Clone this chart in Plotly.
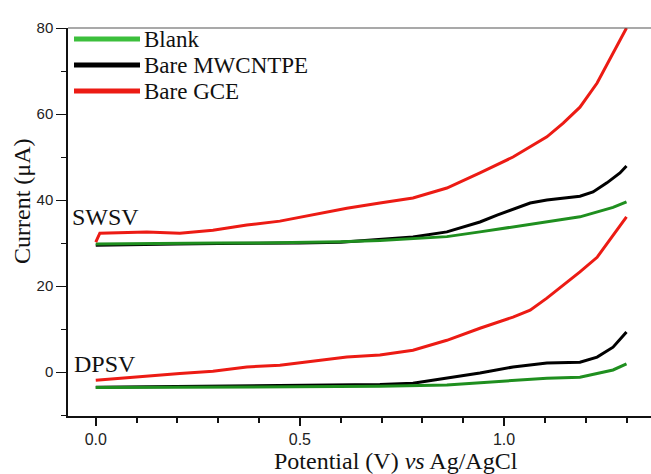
import plotly.graph_objects as go

# ---- data ----
sw_gce_v = [0.0, 0.01, 0.125, 0.206, 0.287, 0.37, 0.451, 0.532, 0.615, 0.696, 0.777, 0.86, 0.941, 1.022, 1.105, 1.145, 1.186, 1.228, 1.267, 1.30]
sw_gce_i = [30.2, 32.3, 32.6, 32.3, 33.0, 34.2, 35.1, 36.5, 38.1, 39.3, 40.5, 42.8, 46.3, 50.0, 54.7, 57.9, 61.6, 67.2, 74.2, 80.0]

sw_mw_v = [0.0, 0.1, 0.2, 0.3, 0.4, 0.5, 0.6, 0.696, 0.777, 0.86, 0.941, 0.983, 1.022, 1.064, 1.105, 1.145, 1.186, 1.218, 1.252, 1.284, 1.30]
sw_mw_i = [29.5, 29.7, 29.8, 29.9, 29.9, 30.0, 30.2, 30.8, 31.4, 32.6, 34.9, 36.5, 37.9, 39.3, 40.0, 40.5, 40.9, 41.9, 44.0, 46.3, 47.9]

sw_bl_v = [0.0, 0.1, 0.2, 0.3, 0.4, 0.5, 0.6, 0.696, 0.777, 0.86, 0.941, 1.022, 1.105, 1.186, 1.267, 1.30]
sw_bl_i = [29.8, 29.9, 30.0, 30.0, 30.0, 30.1, 30.3, 30.6, 31.1, 31.5, 32.6, 33.8, 35.0, 36.1, 38.3, 39.6]

dp_gce_v = [0.0, 0.125, 0.206, 0.287, 0.37, 0.451, 0.532, 0.615, 0.696, 0.777, 0.86, 0.941, 1.022, 1.064, 1.105, 1.145, 1.186, 1.228, 1.267, 1.30]
dp_gce_i = [-1.9, -0.9, -0.3, 0.2, 1.2, 1.6, 2.6, 3.5, 4.0, 5.1, 7.4, 10.2, 12.8, 14.4, 17.2, 20.2, 23.3, 26.7, 31.7, 36.1]

dp_mw_v = [0.0, 0.1, 0.2, 0.3, 0.4, 0.5, 0.6, 0.696, 0.777, 0.86, 0.941, 1.022, 1.105, 1.186, 1.228, 1.267, 1.30]
dp_mw_i = [-3.5, -3.4, -3.3, -3.3, -3.2, -3.1, -3.0, -2.9, -2.6, -1.4, -0.2, 1.2, 2.1, 2.3, 3.5, 5.8, 9.3]

dp_bl_v = [0.0, 0.2, 0.4, 0.6, 0.696, 0.86, 1.022, 1.105, 1.186, 1.267, 1.30]
dp_bl_i = [-3.6, -3.5, -3.5, -3.4, -3.3, -3.0, -1.9, -1.4, -1.2, 0.5, 1.9]

legend_names = ["Blank", "Bare MWCNTPE", "Bare GCE"]
x_ticks = [0.0, 0.5, 1.0]
x_tick_text = ["0.0", "0.5", "1.0"]
y_ticks = [0, 20, 40, 60, 80]

RED = "#ec1b14"
GREEN = "#1f8f1f"
BLACK = "#000000"
LEG_GREEN = "#3cbf3c"
SERIF = "Liberation Serif, Times New Roman, serif"
SANS = "Liberation Sans, Arial, sans-serif"

fig = go.Figure()
series = [
    (sw_mw_v, sw_mw_i, BLACK), (sw_bl_v, sw_bl_i, GREEN), (sw_gce_v, sw_gce_i, RED),
    (dp_mw_v, dp_mw_i, BLACK), (dp_bl_v, dp_bl_i, GREEN), (dp_gce_v, dp_gce_i, RED),
]
for xv, yv, c in series:
    fig.add_trace(go.Scatter(x=xv, y=yv, mode="lines", line=dict(color=c, width=3),
                             showlegend=False, hoverinfo="skip"))

fig.update_layout(
    width=651, height=474,
    margin=dict(l=68, r=0, t=28, b=58),
    paper_bgcolor="white", plot_bgcolor="white",
    showlegend=False,
    xaxis=dict(range=[-0.068, 1.360], showgrid=False, zeroline=False,
               showline=True, linecolor="#111", linewidth=1.5,
               tickmode="array", tickvals=x_ticks, ticktext=x_tick_text,
               ticks="outside", ticklen=8, tickwidth=1.5, tickcolor="#111",
               tickfont=dict(family=SANS, size=16, color="#222"),
               minor=dict(dtick=0.1, tick0=0, ticks="outside", ticklen=5, tickwidth=1.5, tickcolor="#111")),
    yaxis=dict(range=[-10.2, 80], showgrid=False, zeroline=False,
               showline=True, linecolor="#111", linewidth=1.5,
               tickmode="array", tickvals=y_ticks,
               ticks="outside", ticklen=10, tickwidth=1.2, tickcolor="#111",
               tickfont=dict(family=SANS, size=15, color="#222"),
               minor=dict(dtick=10, tick0=0, ticks="outside", ticklen=5, tickwidth=1.2, tickcolor="#111")),
)

# top frame line
fig.add_shape(type="line", xref="paper", yref="paper", x0=0, x1=1, y0=1, y1=1,
              line=dict(color="#555", width=1.2))

# axis titles
fig.add_annotation(xref="paper", yref="paper", x=0.5626, y=-0.116, xanchor="center", yanchor="middle",
                   text="Potential (V) <i>vs</i> Ag/AgCl", showarrow=False,
                   font=dict(family=SERIF, size=24, color="#111"))
fig.add_annotation(xref="paper", yref="paper", x=-0.079, y=0.554, xanchor="center", yanchor="middle",
                   text="Current (\u03bcA)", textangle=-90, showarrow=False,
                   font=dict(family=SERIF, size=24, color="#111"))

# technique labels
fig.add_annotation(x=0.023, y=36.0, text="SWSV", showarrow=False, xanchor="center", yanchor="middle",
                   font=dict(family=SERIF, size=24, color="#111"))
fig.add_annotation(x=0.023, y=1.9, text="DPSV", showarrow=False, xanchor="center", yanchor="middle",
                   font=dict(family=SERIF, size=24, color="#111"))

# manual legend
leg_colors = [LEG_GREEN, BLACK, RED]
leg_y = [(416 - 39) / 388, (416 - 65) / 388, (416 - 91) / 388]
for name, c, yy in zip(legend_names, leg_colors, leg_y):
    fig.add_shape(type="line", xref="paper", yref="paper", x0=0.0103, x1=0.1235, y0=yy, y1=yy,
                  line=dict(color=c, width=5))
    fig.add_annotation(xref="paper", yref="paper", x=0.1286, y=yy, xanchor="left", yanchor="middle",
                       text=name, showarrow=False, borderpad=0,
                       font=dict(family=SERIF, size=23, color="#111"))

fig.write_html("out.html")
